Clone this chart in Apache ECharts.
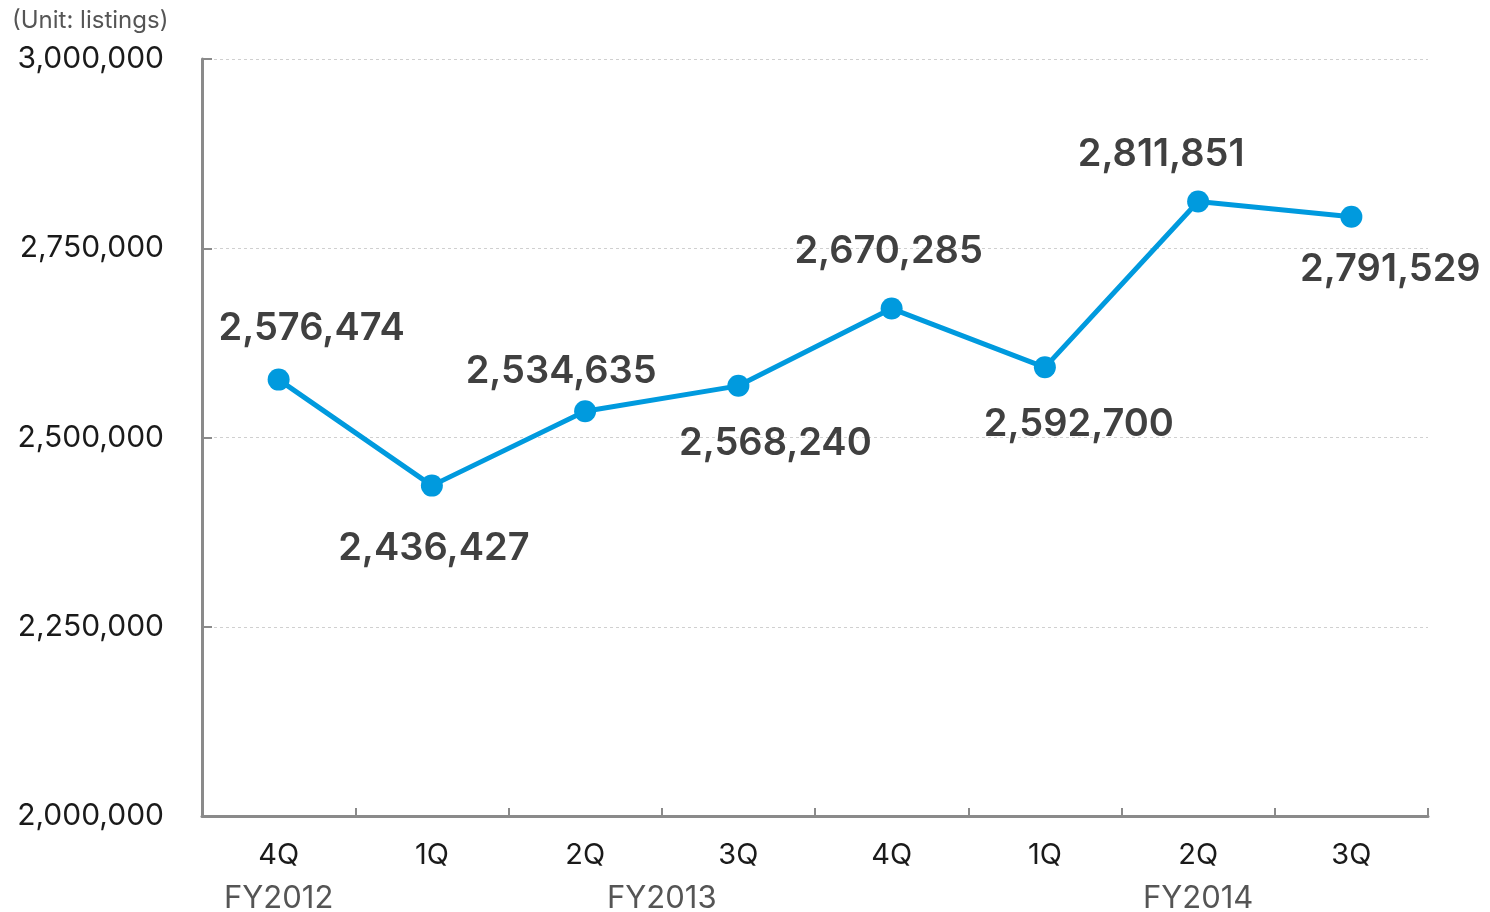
<!DOCTYPE html>
<html>
<head>
<meta charset="utf-8">
<script src="https://cdn.jsdelivr.net/npm/echarts@6/dist/echarts.min.js"></script>
<style>
  html, body { margin: 0; padding: 0; background: #fff; }
  #chart { width: 1490px; height: 912px; }
</style>
</head>
<body>
<div id="chart"></div>
<script>
// Quarterly listing counts
const quarters = ['4Q', '1Q', '2Q', '3Q', '4Q', '1Q', '2Q', '3Q'];
const listings = [2576474, 2436427, 2534635, 2568240, 2670285, 2592700, 2811851, 2791529];
const fiscalYears = ['FY2012', 'FY2013', 'FY2014'];
// half-slot positions (0..16) on the fiscal-year axis where each year label sits
const fiscalYearSlots = [1, 6, 13];
const yTicks = [2000000, 2250000, 2500000, 2750000, 3000000];

// label offsets [dx, dy] relative to each point
const labelOffsets = [[33, -51], [2, 63], [-24, -40], [37, 58], [-3, -57], [34, 57], [-37, -47], [39, 53]];

const FONT = 'Inter, "Noto Sans", sans-serif';
const fyCats = Array.from({ length: 17 }, (_, i) => {
  const k = fiscalYearSlots.indexOf(i);
  return k >= 0 ? fiscalYears[k] : '';
});

const chart = echarts.init(document.getElementById('chart'), null, { renderer: 'canvas' });
chart.setOption({
  animation: false,
  backgroundColor: '#ffffff',
  grid: { left: 202, right: 62, top: 59, bottom: 96, outerBoundsMode: 'none', containLabel: false },
  graphic: [{
    type: 'text', left: 12, top: 9,
    style: { text: '(Unit: listings)', font: '24px ' + FONT, fill: '#555555' }
  }],
  xAxis: [{
    type: 'category',
    data: quarters,
    boundaryGap: true,
    axisLine: { lineStyle: { color: '#8a8a8a', width: 3 } },
    axisTick: { show: true, inside: true, length: 8, alignWithLabel: false, lineStyle: { color: '#8a8a8a', width: 2 } },
    axisLabel: { color: '#1a1a1a', fontSize: 29, fontFamily: FONT, margin: 25 },
    splitLine: { show: false }
  }, {
    type: 'category',
    data: fyCats,
    position: 'bottom',
    boundaryGap: false,
    axisLine: { show: false },
    axisTick: { show: false },
    axisLabel: { interval: 0, color: '#555555', fontSize: 31, fontFamily: FONT, margin: 67 },
    splitLine: { show: false }
  }],
  yAxis: {
    type: 'value',
    min: yTicks[0],
    max: yTicks[yTicks.length - 1],
    interval: yTicks[1] - yTicks[0],
    axisLine: { show: true, lineStyle: { color: '#8a8a8a', width: 3 } },
    axisTick: { show: true, inside: true, length: 10, lineStyle: { color: '#8a8a8a', width: 2 } },
    axisLabel: {
      color: '#1a1a1a', fontSize: 30, fontFamily: FONT, margin: 38,
      formatter: v => v.toLocaleString('en-US')
    },
    splitLine: { show: true, lineStyle: { color: '#d0d0d0', width: 1, type: [3, 3] } }
  },
  series: [{
    type: 'line',
    xAxisIndex: 0,
    data: listings.map((v, i) => ({
      value: v,
      label: { offset: labelOffsets[i] }
    })),
    symbol: 'circle',
    symbolSize: 22,
    lineStyle: { color: '#009ade', width: 5 },
    itemStyle: { color: '#009ade' },
    label: {
      show: true,
      position: 'inside',
      color: '#404040',
      fontSize: 38,
      fontWeight: 600,
      fontFamily: FONT,
      formatter: p => p.value.toLocaleString('en-US')
    },
    z: 3
  }]
});
</script>
</body>
</html>
